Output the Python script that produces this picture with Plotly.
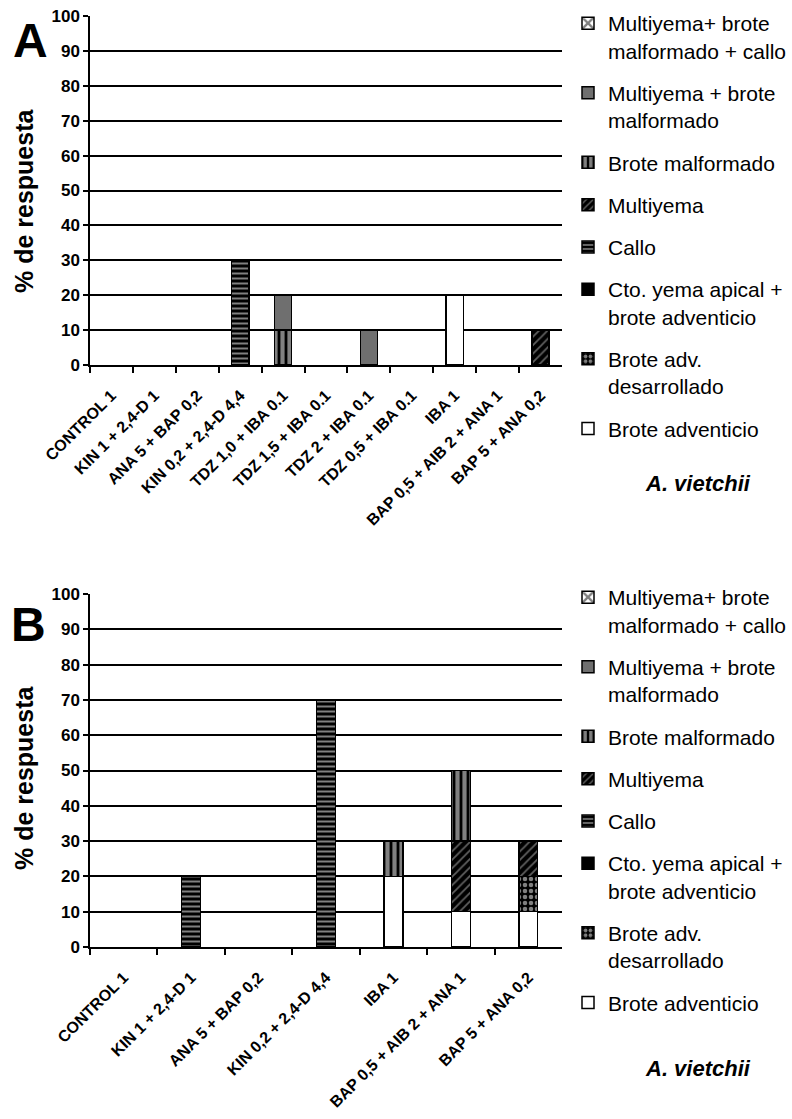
import plotly.graph_objects as go

W, H = 792, 1119

# ---------------- data ----------------
cats_a = ["CONTROL 1", "KIN 1 + 2,4-D 1", "ANA 5 + BAP 0,2", "KIN 0,2 + 2,4-D 4,4",
          "TDZ 1,0 + IBA 0.1", "TDZ 1,5 + IBA 0.1", "TDZ 2 + IBA 0.1", "TDZ 0,5 + IBA 0.1",
          "IBA 1", "BAP 0,5 + AIB 2 + ANA 1", "BAP 5 + ANA 0,2"]
cats_b = ["CONTROL 1", "KIN 1 + 2,4-D 1", "ANA 5 + BAP 0,2", "KIN 0,2 + 2,4-D 4,4",
          "IBA 1", "BAP 0,5 + AIB 2 + ANA 1", "BAP 5 + ANA 0,2"]

series_names = ["Brote adventicio", "Brote adv.<br>desarrollado",
                "Cto. yema apical +<br>brote adventicio", "Callo", "Multiyema",
                "Brote malformado", "Multiyema + brote<br>malformado",
                "Multiyema+ brote<br>malformado + callo"]

a_brote_adventicio = [0, 0, 0, 0, 0, 0, 0, 0, 20, 0, 0]
a_brote_adv_desarrollado = [0, 0, 0, 0, 0, 0, 0, 0, 0, 0, 0]
a_cto_yema_apical = [0, 0, 0, 0, 0, 0, 0, 0, 0, 0, 0]
a_callo = [0, 0, 0, 30, 0, 0, 0, 0, 0, 0, 0]
a_multiyema = [0, 0, 0, 0, 0, 0, 0, 0, 0, 0, 10]
a_brote_malformado = [0, 0, 0, 0, 10, 0, 0, 0, 0, 0, 0]
a_multiyema_malformado = [0, 0, 0, 0, 10, 0, 10, 0, 0, 0, 0]
a_multiyema_malformado_callo = [0, 0, 0, 0, 0, 0, 0, 0, 0, 0, 0]

b_brote_adventicio = [0, 0, 0, 0, 20, 10, 10]
b_brote_adv_desarrollado = [0, 0, 0, 0, 0, 0, 10]
b_cto_yema_apical = [0, 0, 0, 0, 0, 0, 0]
b_callo = [0, 20, 0, 70, 0, 0, 0]
b_multiyema = [0, 0, 0, 0, 0, 20, 10]
b_brote_malformado = [0, 0, 0, 0, 10, 20, 0]
b_multiyema_malformado = [0, 0, 0, 0, 0, 0, 0]
b_multiyema_malformado_callo = [0, 0, 0, 0, 0, 0, 0]

y_ticks = [0, 10, 20, 30, 40, 50, 60, 70, 80, 90, 100]

values_a = [a_brote_adventicio, a_brote_adv_desarrollado, a_cto_yema_apical, a_callo,
            a_multiyema, a_brote_malformado, a_multiyema_malformado,
            a_multiyema_malformado_callo]
values_b = [b_brote_adventicio, b_brote_adv_desarrollado, b_cto_yema_apical, b_callo,
            b_multiyema, b_brote_malformado, b_multiyema_malformado,
            b_multiyema_malformado_callo]

# ---------------- styles ----------------
styles = [
    dict(color="white", pattern=dict(shape="")),
    dict(color="black", pattern=dict(shape=".", fgcolor="white", bgcolor="black", size=6, solidity=0.45)),
    dict(color="black", pattern=dict(shape="")),
    dict(color="black", pattern=dict(shape="-", fgcolor="white", bgcolor="black", size=5, solidity=0.4)),
    dict(color="black", pattern=dict(shape="/", fgcolor="#c0c0c0", bgcolor="black", size=6, solidity=0.3)),
    dict(color="white", pattern=dict(shape="|", fgcolor="white", bgcolor="black", size=7, solidity=0.6)),
    dict(color="#6f6f6f", pattern=dict(shape="")),
    dict(color="white", pattern=dict(shape="x", fgcolor="black", bgcolor="white", size=10, solidity=0.5)),
]

FONT = "Liberation Sans, Arial, sans-serif"


def px(x):
    return x / W


def py(y):
    return 1 - y / H


fig = go.Figure()

n = len(series_names)
for panel, (cats, vals, xa, ya, lg) in enumerate([
        (cats_a, values_a, "x", "y", "legend"),
        (cats_b, values_b, "x2", "y2", "legend2")]):
    for i, name in enumerate(series_names):
        st = styles[i]
        fig.add_trace(go.Bar(
            x=cats, y=[v if v else None for v in vals[i]], name=name,
            xaxis=xa, yaxis=ya, legend=lg, legendgroup=f"{lg}_{i}",
            legendrank=100 + (n - i),
            marker=dict(color=st["color"], pattern=st["pattern"],
                        line=dict(color="black", width=1.5)),
            showlegend=True,
        ))

axis_common_x = dict(type="category", showline=True, linecolor="black", linewidth=1.5,
                     ticks="outside", tickson="boundaries", ticklen=6, tickcolor="black",
                     tickwidth=1.5, tickangle=-45, showgrid=False, automargin=False,
                     ticklabelstandoff=13,
                     tickfont=dict(family=FONT, size=16, color="black", weight="bold"))
axis_common_y = dict(range=[0, 100], tickvals=y_ticks, showgrid=True, gridcolor="black",
                     gridwidth=1.5, showline=True, linecolor="black", linewidth=1.5,
                     ticks="outside", ticklen=5, tickcolor="black", tickwidth=1.5,
                     zeroline=False, automargin=False,
                     tickfont=dict(family=FONT, size=17, color="black", weight="bold"))

legend_common = dict(font=dict(family=FONT, size=21, color="black"),
                     traceorder="grouped", tracegroupgap=12, valign="top",
                     xref="container", yref="container",
                     xanchor="left", yanchor="top", bgcolor="rgba(0,0,0,0)", itemwidth=30)

fig.update_layout(
    width=W, height=H, margin=dict(l=0, r=0, t=0, b=0, autoexpand=False),
    paper_bgcolor="white", plot_bgcolor="white",
    barmode="stack", bargap=0.6,
    font=dict(family=FONT, color="black"),
    xaxis=dict(domain=[px(90), px(562)], anchor="y", categoryorder="array",
               categoryarray=cats_a, **axis_common_x),
    yaxis=dict(domain=[py(365), py(16)], anchor="x", **axis_common_y),
    xaxis2=dict(domain=[px(90), px(562)], anchor="y2", categoryorder="array",
                categoryarray=cats_b, **axis_common_x),
    yaxis2=dict(domain=[py(947), py(594)], anchor="x2", **axis_common_y),
    legend=dict(x=px(568), y=py(3), **legend_common),
    legend2=dict(x=px(568), y=py(577), **legend_common),
)
fig.update_traces(selector=dict(xaxis="x2"), width=0.28)

annotations = [
    dict(text="A", x=px(30), y=py(41), font=dict(size=48, weight="bold")),
    dict(text="B", x=px(28), y=py(624), font=dict(size=48, weight="bold")),
    dict(text="% de respuesta", x=px(24), y=py(201), textangle=-90,
         font=dict(size=25, weight="bold")),
    dict(text="% de respuesta", x=px(24), y=py(778), textangle=-90,
         font=dict(size=25, weight="bold")),
    dict(text="A. vietchii", x=px(698), y=py(483),
         font=dict(size=22, weight="bold", style="italic")),
    dict(text="A. vietchii", x=px(698), y=py(1068),
         font=dict(size=22, weight="bold", style="italic")),
]
for a in annotations:
    a.update(xref="paper", yref="paper", showarrow=False, xanchor="center", yanchor="middle")
    a["font"].update(family=FONT, color="black")
    fig.add_annotation(**a)

fig.write_html("out.html")
